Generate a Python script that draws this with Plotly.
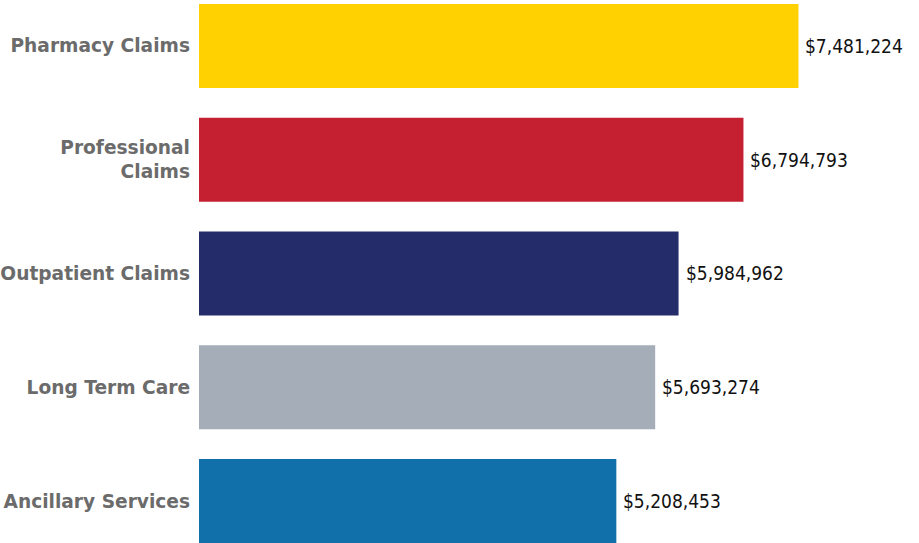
import plotly.graph_objects as go

categories = ["Ancillary Services", "Long Term Care", "Outpatient Claims", "Professional<br>Claims", "Pharmacy Claims"]
values = [5208453, 5693274, 5984962, 6794793, 7481224]
colors = ["#1170AA", "#A4ADB8", "#242C6A", "#C42032", "#FFD100"]
labels = ["${:,}".format(v) for v in values]

fig = go.Figure(go.Bar(
    y=categories,
    x=values,
    orientation="h",
    marker=dict(color=colors, line=dict(width=0)),
    width=0.738,
    cliponaxis=False,
))

for c, v, t in zip(categories, values, labels):
    fig.add_annotation(x=v, y=c, text=t, showarrow=False, xanchor="left", yanchor="middle",
                       xshift=5, font=dict(family="DejaVu Sans Condensed", size=19, color="#111111"))

fig.update_layout(
    width=919, height=543,
    margin=dict(l=199, r=0, t=0, b=0),
    plot_bgcolor="white", paper_bgcolor="white",
    showlegend=False,
    xaxis=dict(range=[0, 8985600], visible=False, showgrid=False, zeroline=False),
    yaxis=dict(range=[-0.369, 4.404], showgrid=False, zeroline=False, showline=False,
               ticks="", ticklabelstandoff=8, automargin=False,
               tickfont=dict(family="DejaVu Sans", size=18.6, color="#6b6b6b", weight="bold")),
)

fig.write_html("out.html")
